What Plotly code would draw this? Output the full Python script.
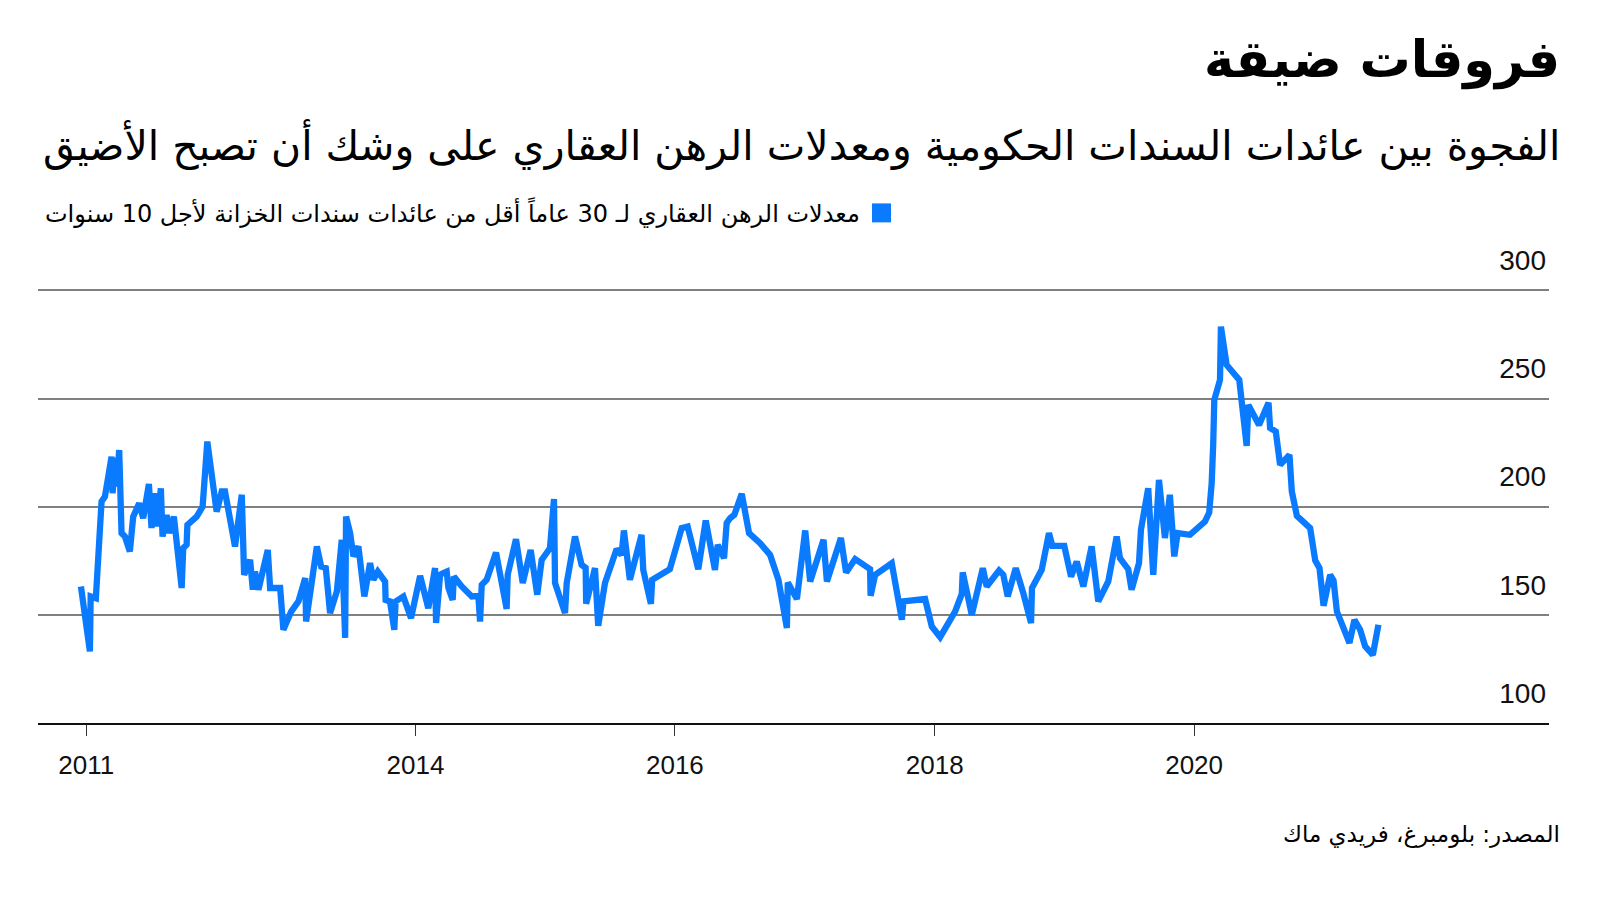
import numpy as np
import pandas as pd
import plotly.graph_objects as go

# ---- data (decimal year, spread in basis points) ----
years = [2011.424, 2011.493, 2011.499, 2011.539, 2011.583, 2011.609, 2011.660, 2011.668, 2011.686, 2011.699,
         2011.719, 2011.737, 2011.763, 2011.801, 2011.827, 2011.873, 2011.904, 2011.948, 2011.968, 2011.989,
         2012.012, 2012.040, 2012.053, 2012.084, 2012.104, 2012.140, 2012.200, 2012.212, 2012.238, 2012.244,
         2012.315, 2012.361, 2012.397, 2012.469, 2012.508, 2012.533, 2012.610, 2012.662, 2012.680, 2012.726,
         2012.747, 2012.764, 2012.790, 2012.862, 2012.880, 2012.957, 2012.982, 2013.042, 2013.098, 2013.150,
         2013.157, 2013.201, 2013.240, 2013.273, 2013.309, 2013.342, 2013.394, 2013.432, 2013.458, 2013.465,
         2013.496, 2013.522, 2013.560, 2013.606, 2013.650, 2013.676, 2013.710, 2013.766, 2013.770, 2013.804,
         2013.837, 2013.847, 2013.907, 2013.966, 2014.036, 2014.099, 2014.151, 2014.159, 2014.190, 2014.215,
         2014.241, 2014.254, 2014.287, 2014.296, 2014.357, 2014.434, 2014.485, 2014.498, 2014.511, 2014.549,
         2014.621, 2014.703, 2014.711, 2014.775, 2014.827, 2014.888, 2014.939, 2014.973, 2015.037, 2015.068,
         2015.076, 2015.153, 2015.166, 2015.230, 2015.281, 2015.312, 2015.316, 2015.384, 2015.409, 2015.461,
         2015.551, 2015.589, 2015.607, 2015.653, 2015.743, 2015.756, 2015.815, 2015.825, 2015.961, 2016.052,
         2016.098, 2016.180, 2016.237, 2016.308, 2016.329, 2016.378, 2016.398, 2016.424, 2016.457, 2016.514,
         2016.570, 2016.655, 2016.732, 2016.796, 2016.861, 2016.868, 2016.938, 2017.002, 2017.040, 2017.143,
         2017.169, 2017.277, 2017.317, 2017.387, 2017.502, 2017.506, 2017.541, 2017.669, 2017.747, 2017.759,
         2017.926, 2017.978, 2018.042, 2018.157, 2018.209, 2018.216, 2018.286, 2018.371, 2018.401, 2018.496,
         2018.529, 2018.563, 2018.625, 2018.683, 2018.743, 2018.750, 2018.825, 2018.881, 2018.907, 2018.999,
         2019.051, 2019.095, 2019.146, 2019.210, 2019.261, 2019.338, 2019.403, 2019.428, 2019.492, 2019.518,
         2019.575, 2019.590, 2019.646, 2019.685, 2019.729, 2019.775, 2019.813, 2019.847, 2019.873, 2019.968,
         2020.006, 2020.083, 2020.116, 2020.135, 2020.147, 2020.155, 2020.199, 2020.206, 2020.250, 2020.347,
         2020.404, 2020.417, 2020.499, 2020.572, 2020.584, 2020.628, 2020.661, 2020.733, 2020.751, 2020.790,
         2020.892, 2020.931, 2020.964, 2020.995, 2021.046, 2021.072, 2021.098, 2021.195, 2021.233, 2021.277,
         2021.316, 2021.375, 2021.418]

spread = [163.1, 133.1, 158.5, 157.7, 202.4, 204.7, 223.1, 206.2, 222.5, 209.3,
          226.2, 187.8, 186.2, 179.3, 195.4, 201.6, 194.7, 210.5, 190.1, 206.2,
          190.8, 208.5, 186.2, 196.2, 187.8, 195.4, 162.4, 180.8, 182.4, 191.6,
          195.4, 200.0, 230.1, 197.7, 207.0, 207.0, 181.6, 205.5, 168.5, 175.4,
          161.6, 170.0, 161.6, 180.0, 162.4, 162.4, 143.1, 151.5, 156.2, 167.0,
          146.9, 163.9, 181.6, 172.3, 171.6, 150.8, 160.8, 184.7, 139.3, 195.4,
          187.9, 177.0, 181.6, 158.5, 173.9, 166.2, 170.0, 165.4, 156.9, 156.2,
          143.1, 156.2, 158.5, 148.5, 168.0, 153.1, 171.6, 146.2, 168.5, 169.3,
          170.0, 162.5, 156.9, 167.7, 163.1, 158.5, 158.8, 146.9, 163.9, 166.2,
          178.8, 152.7, 168.5, 185.0, 164.7, 180.0, 159.3, 175.4, 180.8, 203.5,
          164.7, 150.8, 164.7, 186.2, 173.1, 171.7, 155.1, 171.6, 144.9, 164.7,
          180.4, 177.7, 189.0, 166.2, 187.0, 170.8, 155.1, 166.2, 171.1, 190.1,
          190.8, 171.1, 193.6, 170.8, 182.4, 176.2, 192.4, 194.7, 196.2, 205.9,
          187.8, 183.1, 177.7, 166.2, 143.9, 164.9, 157.3, 189.0, 165.4, 184.7,
          165.4, 185.5, 169.6, 175.8, 171.1, 158.8, 168.5, 173.9, 147.7, 156.2,
          157.3, 144.6, 139.7, 151.5, 159.7, 169.6, 150.0, 171.6, 163.1, 170.5,
          168.5, 158.5, 171.6, 160.0, 146.2, 162.4, 170.8, 187.8, 181.9, 181.9,
          167.7, 174.6, 163.1, 181.6, 156.2, 165.4, 186.2, 176.2, 171.1, 161.6,
          173.9, 189.3, 208.5, 168.5, 212.4, 185.5, 205.5, 177.0, 187.8, 187.0,
          189.3, 193.1, 197.3, 210.9, 229.3, 249.3, 258.6, 283.2, 265.5, 258.6,
          228.1, 247.0, 237.8, 248.0, 236.4, 234.7, 219.3, 223.9, 207.0, 195.8,
          190.1, 175.1, 171.6, 154.2, 168.5, 165.9, 151.5, 137.0, 147.7, 143.1,
          135.4, 131.5, 145.4]

tick_years = [2011.465, 2014.0, 2016.0, 2018.0, 2020.0]
tick_labels = ["2011", "2014", "2016", "2018", "2020"]
y_ticks = [100, 150, 200, 250, 300]
x_range_years = [2011.093, 2022.733]
y_range = [100, 302]

title_text = "فروقات ضيقة"
subtitle_text = "الفجوة بين عائدات السندات الحكومية ومعدلات الرهن العقاري على وشك أن تصبح الأضيق"
legend_text = "معدلات الرهن العقاري لـ 30 عاماً أقل من عائدات سندات الخزانة لأجل 10 سنوات"
source_text = "المصدر: بلومبرغ، فريدي ماك"


def to_date(y):
    yr = int(np.floor(y))
    start = pd.Timestamp(yr, 1, 1)
    end = pd.Timestamp(yr + 1, 1, 1)
    return start + (end - start) * (y - yr)


dates = [to_date(v) for v in years]
tick_dates = [to_date(v) for v in tick_years]

BLUE = "#0A7BFF"
AR_FONT = "DejaVu Sans"
NUM_FONT = "Liberation Sans"

# page has an 8px body margin; figure coordinates = page coordinates - 8
OFF = 8
PX_PER_UNIT = 2.165
W, H = 1600 - OFF, 900 - OFF
L, R, B = 38 - OFF, 1549 - OFF, 723 - OFF
T = B - PX_PER_UNIT * (y_range[1] - y_range[0])


def px(x):
    return (x - OFF - L) / (R - L)


def py(y):
    return (B - (y - OFF)) / (B - T)


fig = go.Figure()
fig.add_trace(go.Scatter(
    x=dates, y=spread, mode="lines",
    line=dict(color=BLUE, width=6.3, shape="linear"),
    showlegend=False, hoverinfo="skip",
))

fig.update_layout(
    width=W, height=H,
    margin=dict(l=L, r=W - R, t=T, b=H - B, autoexpand=False),
    paper_bgcolor="white", plot_bgcolor="white",
    showlegend=False,
    xaxis=dict(
        type="date",
        range=[to_date(x_range_years[0]), to_date(x_range_years[1])],
        tickvals=tick_dates, ticktext=tick_labels,
        showgrid=False, zeroline=False,
        showline=True, linecolor="#111", linewidth=1.5,
        ticks="outside", ticklen=11, tickwidth=1.2, tickcolor="#333",
        tickfont=dict(family=NUM_FONT, size=26, color="#111"),
        ticklabelstandoff=7,
    ),
    yaxis=dict(
        range=y_range, side="right",
        tickvals=y_ticks, ticktext=[str(v) for v in y_ticks],
        showgrid=True, gridcolor="#808080", gridwidth=1.5,
        zeroline=False, showline=False, ticks="",
        ticklabelposition="inside", ticklabelshift=-30,
        ticklabeloverflow="allow",
        tickfont=dict(family=NUM_FONT, size=28, color="#111"),
    ),
)

annotations = [
    dict(text="<b>" + title_text + "</b>", x=px(1562), y=py(59), xanchor="right", yanchor="middle",
         font=dict(family=AR_FONT, size=51, color="#000")),
    dict(text=subtitle_text, x=px(1562), y=py(144), xanchor="right", yanchor="middle",
         font=dict(family=AR_FONT, size=41, color="#000")),
    dict(text=legend_text, x=px(862), y=py(212), xanchor="right", yanchor="middle",
         font=dict(family=AR_FONT, size=24, color="#000")),
    dict(text=source_text, x=px(1562), y=py(835), xanchor="right", yanchor="middle",
         font=dict(family=AR_FONT, size=23, color="#000")),
]
for a in annotations:
    a.update(xref="paper", yref="paper", showarrow=False)
fig.update_layout(annotations=annotations)

fig.add_shape(type="rect", xref="paper", yref="paper",
              x0=px(872), x1=px(891), y0=py(222), y1=py(203),
              fillcolor=BLUE, line=dict(width=0))

fig.write_html("out.html")
